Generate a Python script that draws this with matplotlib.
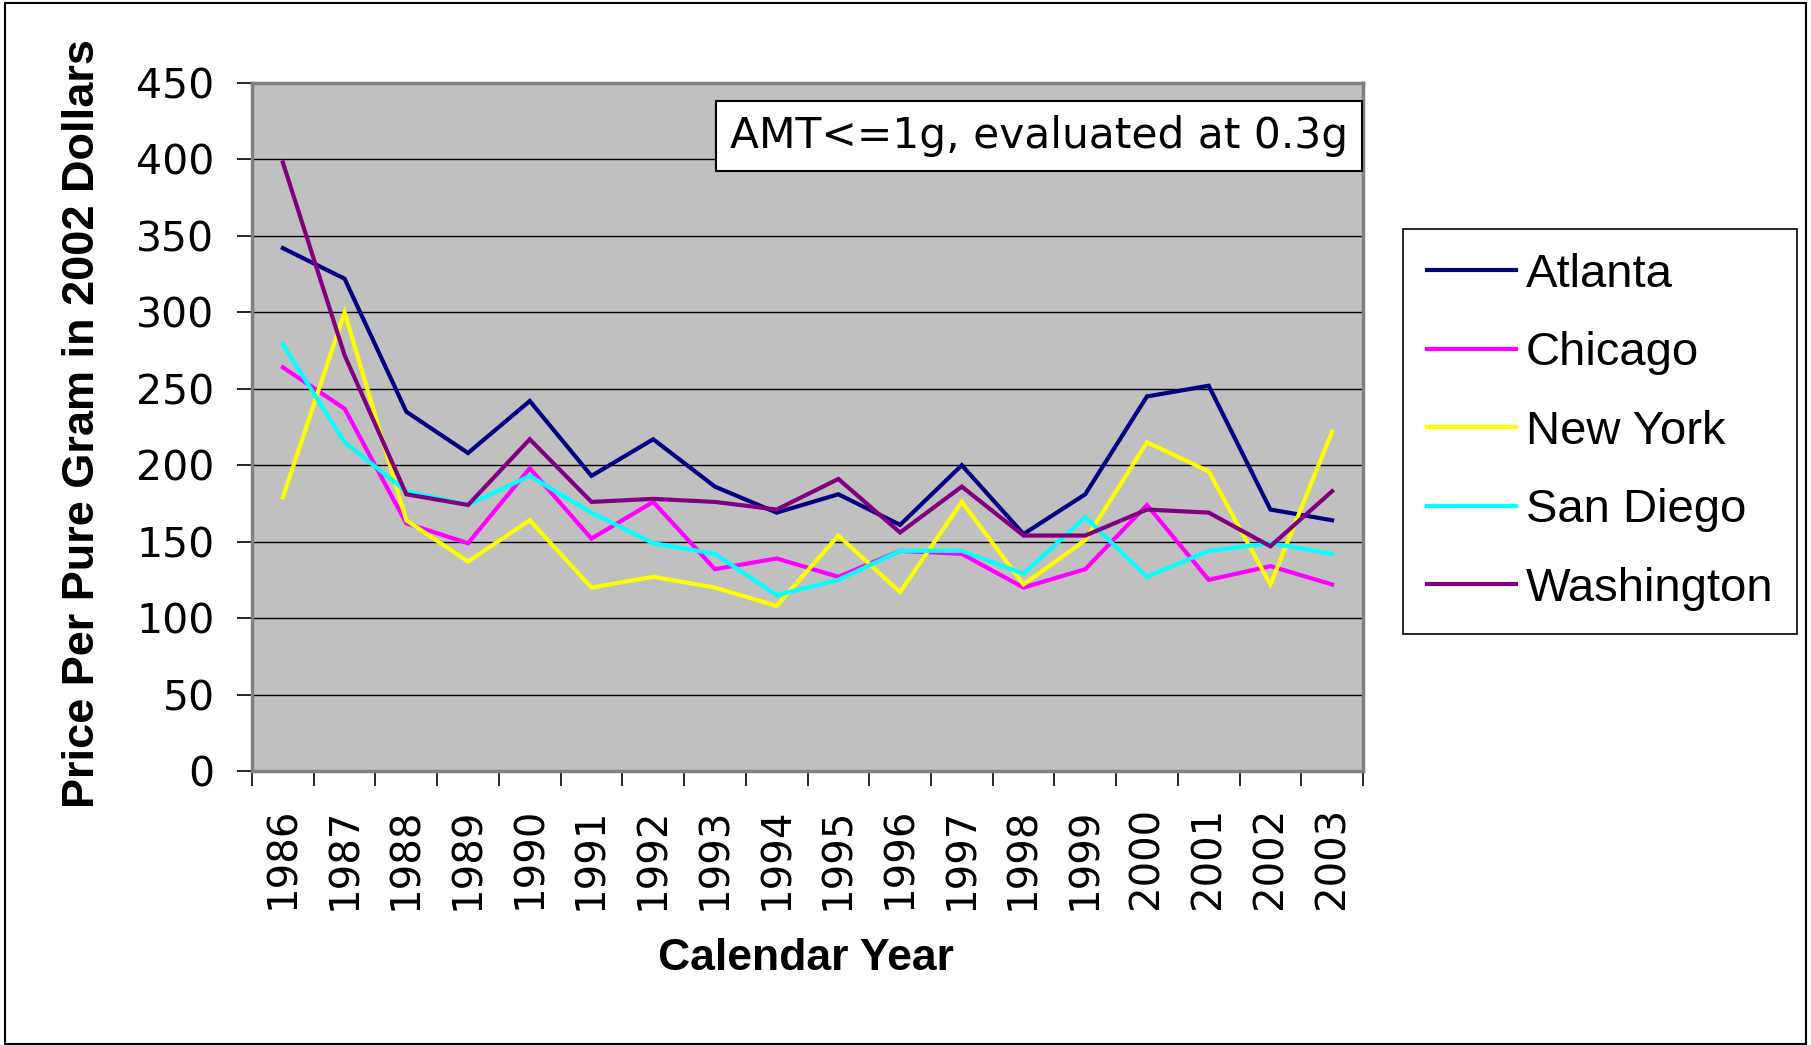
import numpy as np
import matplotlib.pyplot as plt
from matplotlib.patches import Rectangle

years = [str(y) for y in range(1986, 2004)]
atlanta = [342, 322, 235, 208, 242, 193, 217, 186, 169, 181, 161, 200, 155, 181, 245, 252, 171, 164]
chicago = [264, 237, 162, 149, 198, 152, 176, 132, 139, 127, 144, 142, 120, 132, 174, 125, 134, 122]
new_york = [179, 300, 164, 137, 164, 120, 127, 120, 108, 154, 117, 176, 122, 151, 215, 196, 122, 222]
san_diego = [279, 215, 183, 174, 193, 169, 149, 142, 115, 125, 144, 144, 129, 166, 127, 144, 149, 142]
washington = [398, 272, 181, 174, 217, 176, 178, 176, 171, 191, 156, 186, 154, 154, 171, 169, 147, 183]

series = [("Atlanta", atlanta, "#000080"),
          ("Chicago", chicago, "#FF00FF"),
          ("New York", new_york, "#FFFF00"),
          ("San Diego", san_diego, "#00FFFF"),
          ("Washington", washington, "#800080")]

W, H = 1811, 1045
fig = plt.figure(figsize=(W / 100, H / 100), dpi=100)
ax = fig.add_axes([252 / W, 1 - 771 / H, (1363 - 252) / W, (771 - 83) / H])
ax.set_facecolor("#C0C0C0")

x = np.arange(len(years)) + 0.5
for name, vals, col in series:
    ax.plot(x, vals, color=col, lw=3, label=name, solid_joinstyle="miter")

ax.set_xlim(0, len(years))
ax.set_ylim(0, 450)
ax.set_yticks(np.arange(0, 451, 50))
ax.yaxis.grid(True, color="black", lw=1)
ax.set_axisbelow(True)

ax.set_xticks(x)
ax.set_xticklabels(years, rotation=90, fontsize=29, family="DejaVu Sans")
ax.set_xticks(np.arange(0, len(years) + 1), minor=True)
ax.tick_params(axis="x", which="major", length=0, pad=26)
ax.tick_params(axis="x", which="minor", length=11, width=1.2, direction="out")
ax.tick_params(axis="y", length=11, width=1.2, direction="out", pad=16, labelsize=29.5)
for lab in ax.get_yticklabels():
    lab.set_family("DejaVu Sans")

for s in ax.spines.values():
    s.set_color("#808080")
    s.set_linewidth(2.5)

fig.text(83 / W, 1 - 424 / H, "Price Per Pure Gram in 2002 Dollars", rotation=90,
         ha="center", va="center", fontsize=32.5, fontweight="bold",
         family=["Liberation Sans Narrow", "Liberation Sans"])
fig.text(806 / W, 1 - 959 / H, "Calendar Year", ha="center", va="center",
         fontsize=32, fontweight="bold", family="Liberation Sans")

fig.text(1039 / W, 1 - 136 / H, "AMT<=1g, evaluated at 0.3g", ha="center", va="center",
         fontsize=30.5, family="DejaVu Sans",
         bbox=dict(boxstyle="square,pad=0.32", fc="white", ec="black", lw=1.5))

leg = fig.legend(loc="upper left", bbox_to_anchor=(1403 / W, 1 - 229 / H),
                 bbox_transform=fig.transFigure, borderaxespad=0,
                 prop={"family": "Liberation Sans", "size": 34},
                 handlelength=1.9, handletextpad=0.2, labelspacing=0.73,
                 borderpad=0.5, fancybox=False, framealpha=1)
leg.get_frame().set_edgecolor("black")
leg.get_frame().set_linewidth(1.2)

fig.patches.append(Rectangle((0.003, 0.001), 0.994, 0.996, transform=fig.transFigure,
                             fill=False, ec="black", lw=1.5))

fig.savefig("out.png", dpi=100)
